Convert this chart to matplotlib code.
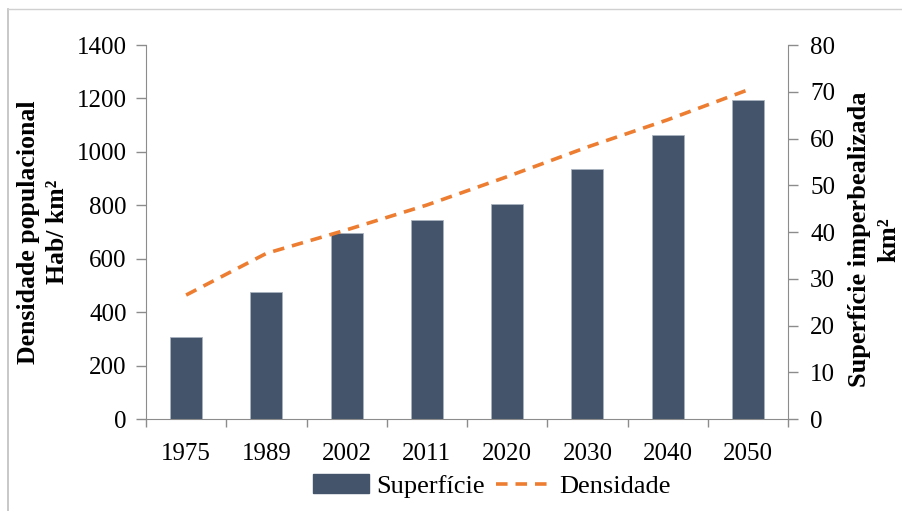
import matplotlib
matplotlib.use("Agg")
import matplotlib.pyplot as plt
from matplotlib.lines import Line2D
from matplotlib.patches import Patch
import numpy as np

years = ["1975", "1989", "2002", "2011", "2020", "2030", "2040", "2050"]
superficie = [17.6, 27.1, 39.7, 42.5, 46.0, 53.4, 60.8, 68.2]   # km² (right axis)
densidade = [464, 620, 708, 801, 907, 1018, 1120, 1232]         # Hab/km² (left axis)

plt.rcParams['font.family'] = ['Liberation Serif', 'DejaVu Serif']

W, H = 902, 511
fig = plt.figure(figsize=(W / 100, H / 100), dpi=100)
ax = fig.add_axes([146 / W, 1 - 419 / H, (788 - 146) / W, (419 - 45) / H])
ax2 = ax.twinx()

x = np.arange(len(years))
bar_color = "#44546A"
line_color = "#ED7D31"
spine_color = "#8C8C8C"

ax2.bar(x, superficie, width=0.4, color=bar_color, edgecolor="#A9B3C1", linewidth=0.6, zorder=2)
ax.plot(x, densidade, color=line_color, linestyle=(0, (3.2, 2.2)), linewidth=2.6, zorder=3)

ax.set_zorder(ax2.get_zorder() + 1)
ax.patch.set_visible(False)

ax.set_xlim(-0.5, len(years) - 0.5)
ax.set_ylim(0, 1400)
ax.set_yticks(np.arange(0, 1401, 200))
ax2.set_ylim(0, 80)
ax2.set_yticks(np.arange(0, 81, 10))

ax.set_xticks(x)
ax.set_xticklabels(years)
ax.set_xticks(np.arange(-0.5, len(years), 1), minor=True)
ax.tick_params(axis='x', which='major', length=0, pad=17, labelsize=18)
ax.tick_params(axis='x', which='minor', length=6, color=spine_color, width=1)
ax.tick_params(axis='y', length=7, color=spine_color, width=1, labelsize=18, pad=7)
ax2.tick_params(axis='y', length=7, color=spine_color, width=1, labelsize=18, pad=9)

for a in (ax, ax2):
    for s in a.spines.values():
        s.set_visible(False)
ax.spines['left'].set_visible(True)
ax.spines['left'].set_color(spine_color)
ax.spines['bottom'].set_visible(True)
ax.spines['bottom'].set_color(spine_color)
ax2.spines['right'].set_visible(True)
ax2.spines['right'].set_color(spine_color)

ax.set_ylabel("Densidade populacional\nHab/ km²", fontsize=18.5, fontweight='bold',
              linespacing=1.35, va='center')
ax.yaxis.set_label_coords((43 - 146) / 642, 0.5)
ax2.set_ylabel("Superfície imperbealizada\nkm²", fontsize=19, fontweight='bold',
               linespacing=1.35, rotation=90, va='center')
ax2.yaxis.set_label_coords((874 - 146) / 642, 0.48)

handles = [Patch(facecolor=bar_color, edgecolor=bar_color),
           Line2D([0], [0], color=line_color, linestyle=(0, (3.2, 2.2)), linewidth=2.6)]
fig.legend(handles, ["Superfície", "Densidade"], loc='center', bbox_to_anchor=(492 / W, 1 - 486 / H),
           ncol=2, frameon=False, fontsize=19, handlelength=2.1, handletextpad=0.3,
           columnspacing=0.4)

# figure border (top and left)
fig.add_artist(Line2D([8 / W, 8 / W], [0, 1 - 9 / H], color="#BFBFBF", linewidth=1.2,
                      transform=fig.transFigure))
fig.add_artist(Line2D([8 / W, 1], [1 - 9 / H, 1 - 9 / H], color="#D0D0D0", linewidth=1.0,
                      transform=fig.transFigure))

fig.savefig("out.png", dpi=100)
